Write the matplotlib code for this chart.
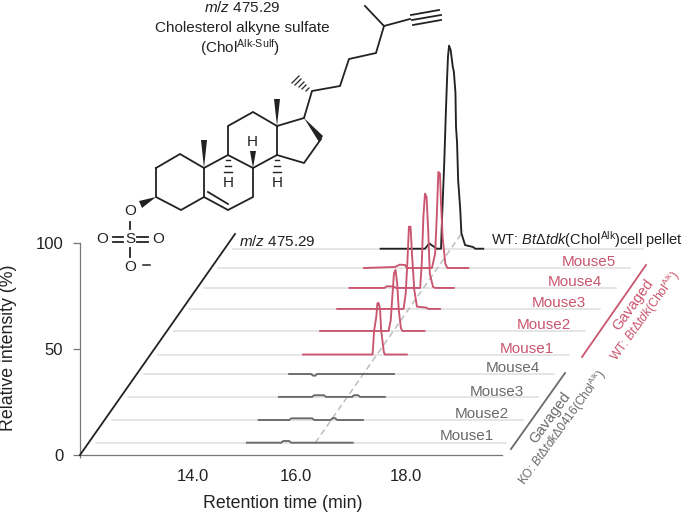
import matplotlib
matplotlib.use("Agg")
import matplotlib.pyplot as plt
from matplotlib.patches import Polygon

plt.rcParams["font.family"] = ["Liberation Sans", "DejaVu Sans"]
plt.rcParams["mathtext.fontset"] = "custom"
plt.rcParams["mathtext.rm"] = "Liberation Sans"
plt.rcParams["mathtext.it"] = "Liberation Sans:italic"
plt.rcParams["mathtext.default"] = "rm"

RED = "#c9556e"
GRAY = "#6a6a6a"
RULE = "#dedede"
DARK = "#222222"
AXIS = "#777777"
W, H = 685, 513

# retention time (min) as drawn, intensity (%) above each trace's own baseline
wt_t = [17.58, 18.41, 18.49, 18.63, 18.71, 18.73, 18.77, 18.80, 18.82, 18.84, 18.86, 18.89,
        18.93, 18.95, 18.98, 18.99, 19.01, 19.03, 19.07, 19.09, 19.16, 19.31, 19.35, 19.50]
wt_i = [0, 0, 2.5, 0, 0, 15, 40.4, 64, 78.2, 90.6, 95.8, 93.7,
        85.8, 83.5, 73.4, 57.5, 49.9, 32.4, 18.3, 7.4, 1.7, 0.8, 0, 0]

m1_t = [16.13, 17.43, 17.46, 17.50, 17.52, 17.54, 17.57, 17.59, 17.64, 17.66, 18.07]
m1_i = [0, 0, 11.5, 17.8, 24.1, 24.4, 21.7, 11.5, 1.3, 0, 0]
m2_t = [16.45, 17.73, 17.77, 17.80, 17.83, 17.86, 17.89, 17.92, 17.96, 17.99, 18.40]
m2_i = [0, 0, 5.2, 16.2, 27.2, 28.8, 22.5, 9.9, 1.3, 0, 0]
m3_t = [16.77, 18.01, 18.05, 18.08, 18.11, 18.14, 18.17, 18.21, 18.26, 18.44, 18.47, 18.69]
m3_i = [0, 0, 7.4, 21.5, 38.8, 38.8, 24.7, 9, 1.1, 0.6, 0, 0]
m4_t = [17.0, 17.65, 17.70, 17.82, 17.87, 18.32, 18.35, 18.38, 18.41, 18.44, 18.47, 18.50, 18.56, 18.60, 18.95]
m4_i = [0, 0, 0.8, 0.7, 0, 0, 11.5, 33.5, 44.5, 42.9, 27.2, 6.8, 0.5, 0, 0]
m5_t = [17.27, 17.85, 17.94, 18.04, 18.07, 18.54, 18.60, 18.63, 18.66, 18.69, 18.71, 18.74, 18.79, 18.83, 19.22]
m5_i = [0, 0.5, 1.6, 1.4, 0, 0, 6.8, 24.1, 45.3, 44.5, 30.3, 14.6, 2, 0, 0]

k1_t = [15.08, 15.72, 15.76, 15.87, 15.91, 17.06]
k1_i = [0, 0, 0.8, 0.8, 0, 0]
k2_t = [15.30, 15.87, 15.91, 16.30, 16.34, 16.64, 16.69, 16.73, 16.77, 17.25]
k2_i = [0, 0, 0.8, 0.8, 0, 0, 0.9, 0.9, 0, 0]
k3_t = [15.68, 16.30, 16.34, 16.52, 16.56, 17.05, 17.08, 17.16, 17.20, 17.66]
k3_i = [0, 0, 0.8, 0.8, 0, 0, 0.8, 0.8, 0, 0]
k4_t = [15.87, 16.28, 16.32, 16.36, 16.39, 17.83]
k4_i = [0, 0, -0.8, -0.8, 0, 0]

# back to front: WT, red mice 5..1, grey mice 4..1
baselines = [97.3, 88.2, 78.8, 68.9, 58.5, 47.4, 38.2, 27.4, 16.5, 5.8]
rule_start = [14.82, 14.54, 14.28, 14.0, 13.72, 13.42, 13.16, 12.86, 12.56, 12.26]
rule_end = [22.49, 22.24, 21.98, 21.68, 21.40, 21.10, 20.82, 20.52, 20.24, 19.93]
traces = [(wt_t, wt_i), (m5_t, m5_i), (m4_t, m4_i), (m3_t, m3_i), (m2_t, m2_i),
          (m1_t, m1_i), (k4_t, k4_i), (k3_t, k3_i), (k2_t, k2_i), (k1_t, k1_i)]
colors = [DARK] + [RED] * 5 + [GRAY] * 4

fig = plt.figure(figsize=(W / 100, H / 100), dpi=100)
ax = fig.add_axes([80 / W, 1 - 455 / H, 422 / W, 212 / H])
ax.set_xlim(11.96, 19.85)
ax.set_ylim(0, 100)
ax.patch.set_alpha(0)
for side in ["top", "right"]:
    ax.spines[side].set_visible(False)
for side in ["left", "bottom"]:
    ax.spines[side].set_color(AXIS)
    ax.spines[side].set_linewidth(0.9)
ax.set_xticks([14.07, 16, 18.05], ["14.0", "16.0", "18.0"])
ax.set_xticks([11.96], minor=True)
ax.set_yticks([0, 50, 100])
ax.tick_params(axis="x", length=0, labelsize=12, pad=10, labelcolor=DARK)
ax.tick_params(axis="x", which="minor", length=2, width=0.9, color=AXIS)
ax.tick_params(axis="y", length=5, width=0.9, color=AXIS, labelsize=12, pad=7, labelcolor=DARK)
ax.set_xlabel("Retention time (min)", fontsize=12.8, color=DARK)
ax.set_ylabel("Relative intensity (%)", fontsize=12.8, color=DARK)
ax.xaxis.set_label_coords((283 - 80) / 422, (455 - 495) / 212)
ax.yaxis.set_label_coords((17 - 80) / 422, (455 - 348) / 212)

for base, s, e in zip(baselines, rule_start, rule_end):
    ax.plot([s, e], [base, base], color=RULE, lw=1.1, clip_on=False, zorder=1)
ax.plot([16.36, 19.13], [5.8, 105.8], color="#bdbdbd", lw=1.1, ls=(0, (4, 2.5)), clip_on=False, zorder=2)
for (t, i), base, col in zip(traces, baselines, colors):
    ax.plot(t, [v + base for v in i], color=col, lw=1.35, clip_on=False, zorder=3, solid_joinstyle="round")

# overlay in pixel coordinates for annotations and the structure
ov = fig.add_axes([0, 0, 1, 1])
ov.set_xlim(0, W)
ov.set_ylim(H, 0)
ov.axis("off")
ov.patch.set_alpha(0)

ov.plot([80, 235], [455, 234], color=DARK, lw=1.3)
ov.plot([582, 646], [357, 265], color=RED, lw=1.3)
ov.plot([511, 565], [449, 373], color=GRAY, lw=1.3)

red_labels = ["Mouse5", "Mouse4", "Mouse3", "Mouse2", "Mouse1"]
red_x = [589, 575, 559, 544, 527]
red_y = [262, 282, 303, 325, 349]
gray_labels = ["Mouse4", "Mouse3", "Mouse2", "Mouse1"]
gray_x = [513, 497, 482, 467]
gray_y = [368, 392, 414, 436]
for s, x, y in zip(red_labels, red_x, red_y):
    ov.text(x, y, s, color=RED, fontsize=11, ha="center", va="center")
for s, x, y in zip(gray_labels, gray_x, gray_y):
    ov.text(x, y, s, color=GRAY, fontsize=11, ha="center", va="center")

ov.text(491, 240, r"WT: $\mathit{Bt\Delta tdk}$(Chol$^{Alk}$)cell pellet", fontsize=10.5, color=DARK, va="center")
ov.text(239, 241, r"$\mathit{m/z}$ 475.29", fontsize=11, color=DARK, va="center")
ov.text(242, 7, r"$\mathit{m/z}$ 475.29", fontsize=11, color=DARK, ha="center", va="center")
ov.text(242, 28, "Cholesterol alkyne sulfate", fontsize=11, color=DARK, ha="center", va="center")
ov.text(240, 48, r"(Chol$^{Alk\text{-}Sulf}$)", fontsize=11, color=DARK, ha="center", va="center")

rot_args = dict(rotation=54, ha="center", va="center", rotation_mode="anchor")
ov.text(633, 305, "Gavaged", fontsize=10.5, color=RED, **rot_args)
ov.text(645, 316, r"WT: $\mathit{Bt\Delta tdk}$(Chol$^{Alk}$)", fontsize=8.7, color=RED, **rot_args)
ov.text(550, 418, "Gavaged", fontsize=10.5, color=GRAY, **rot_args)
ov.text(562, 428, r"KO: $\mathit{Bt\Delta tdk\Delta 0416}$(Chol$^{Alk}$)", fontsize=8.6, color=GRAY, **rot_args)

# structure, traced in pixels
bonds = [
    [(156, 168), (180, 154), (204, 168), (204, 197), (181, 210), (156, 197), (156, 168)],
    [(204, 168), (228, 155), (253, 168), (253, 197), (228, 210), (204, 197)],
    [(228, 155), (228, 126), (253, 112), (277, 126), (277, 155), (253, 168)],
    [(277, 126), (304, 118)],
    [(321, 139), (304, 163), (277, 155)],
    [(304, 118), (312, 91), (340, 86), (349, 59), (376, 53), (384, 26), (365, 6)],
    [(384, 26), (410, 19)],
    [(411, 15), (439, 10)],
    [(412, 20), (441, 15)],
    [(413, 25), (441, 20)],
    [(208, 192), (228, 204)],
    [(130, 222), (130, 229)],
    [(130, 248), (130, 257)],
    [(113, 237), (123, 237)],
    [(113, 242), (123, 242)],
    [(137, 237), (148, 237)],
    [(137, 242), (148, 242)],
]
for seg in bonds:
    ov.plot([p[0] for p in seg], [p[1] for p in seg], color=DARK, lw=1.3, solid_joinstyle="miter")

wedges = [
    [(204, 168), (201, 140), (207, 140)],
    [(277, 126), (274, 99), (280, 99)],
    [(253, 168), (250, 151), (256, 151)],
    [(304, 118), (323, 136), (319, 142)],
    [(156, 197), (139, 201), (142, 208)],
]
for tri in wedges:
    ov.add_patch(Polygon(tri, closed=True, color=DARK, lw=0))

for hx, hy, half in [(228, 160, 2), (228, 166, 3), (228, 172, 4), (277, 160, 2), (277, 166, 3), (277, 172, 4)]:
    ov.plot([hx - half, hx + half], [hy, hy], color=DARK, lw=1)
for x0, y0, x1, y1 in [(309, 88, 306, 91), (306, 85, 302, 89), (304, 82, 299, 87), (301, 79, 295, 85), (299, 76, 292, 83)]:
    ov.plot([x0, x1], [y0, y1], color=DARK, lw=0.9)

atoms = [("H", 252, 142), ("H", 228, 183), ("H", 277, 183), ("O", 130, 211), ("S", 130, 239),
         ("O", 102, 239), ("O", 158, 239), ("O", 130, 267)]
for s, x, y in atoms:
    ov.text(x, y, s, fontsize=11, color=DARK, ha="center", va="center")
ov.plot([143, 150], [265, 265], color=DARK, lw=1.1)

fig.savefig("out.png", dpi=100)
